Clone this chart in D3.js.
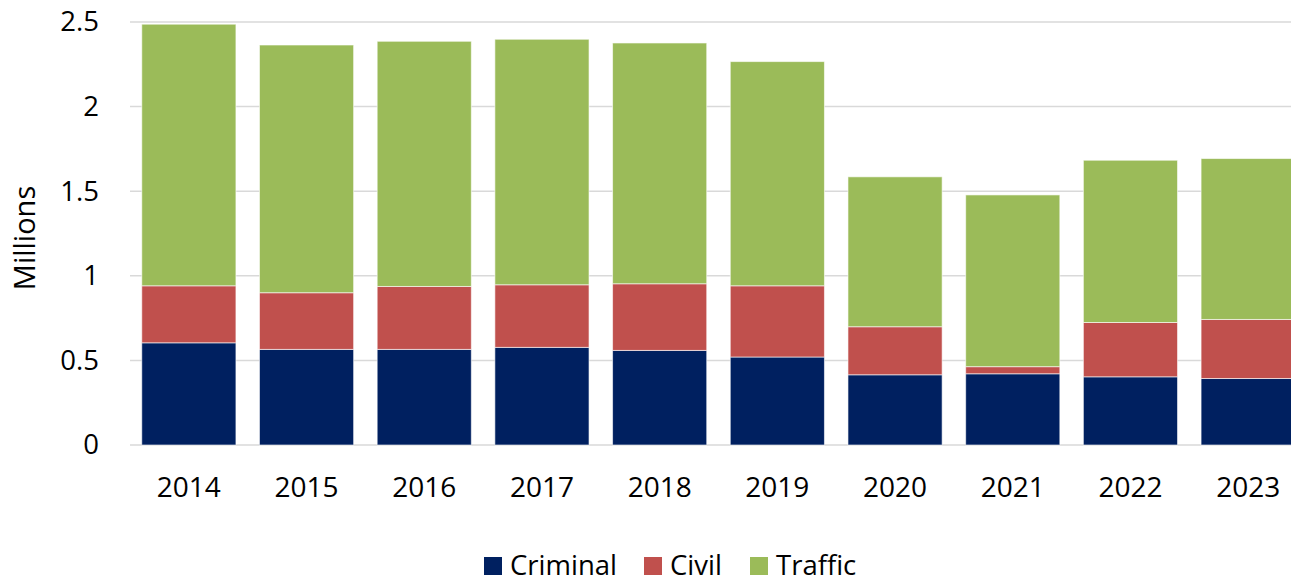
<!DOCTYPE html>
<html>
<head>
<meta charset="utf-8">
<script src="https://cdn.jsdelivr.net/npm/d3@7"></script>
<style>
  body { margin: 0; background: #fff; }
  svg { display: block; font-family: "Open Sans", "Noto Sans", sans-serif; }
</style>
</head>
<body>
<div id="chart"></div>
<script>
// DATA (millions)
const years = ["2014", "2015", "2016", "2017", "2018", "2019", "2020", "2021", "2022", "2023"];
const criminal = [0.604, 0.565, 0.565, 0.577, 0.559, 0.520, 0.415, 0.421, 0.403, 0.393];
const civil = [0.337, 0.335, 0.372, 0.370, 0.394, 0.421, 0.284, 0.042, 0.321, 0.349];
const traffic = [1.546, 1.464, 1.449, 1.451, 1.423, 1.325, 0.886, 1.015, 0.959, 0.951];
const seriesNames = ["Criminal", "Civil", "Traffic"];
const colors = ["#002060", "#C0504D", "#9BBB59"];
const yTicks = [0, 0.5, 1, 1.5, 2, 2.5];

const width = 1291;
const height = 578;
const margin = ({ top: 22, right: -16, bottom: 133, left: 130 });

const rows = years.map((y, i) => ({ year: y, Criminal: criminal[i], Civil: civil[i], Traffic: traffic[i] }));
const stacked = d3.stack().keys(seriesNames)(rows);

const x = d3.scaleBand()
    .domain(years)
    .range([margin.left, width - margin.right])
    .paddingInner(0.2)
    .paddingOuter(0.1);

const y = d3.scaleLinear()
    .domain([0, 2.5])
    .range([height - margin.bottom, margin.top]);

const svg = d3.select("#chart")
    .append("svg")
    .attr("width", width)
    .attr("height", height);

// gridlines
svg.append("g")
    .selectAll("line")
    .data(yTicks)
    .join("line")
    .attr("x1", margin.left)
    .attr("x2", width - margin.right)
    .attr("y1", d => y(d))
    .attr("y2", d => y(d))
    .attr("stroke", "#d9d9d9")
    .attr("stroke-width", 1.5);

// y axis labels
svg.append("g")
    .call(d3.axisLeft(y).tickValues(yTicks).tickSize(0).tickPadding(0).tickFormat(d3.format("")))
    .attr("transform", `translate(99,0)`)
    .call(g => g.select(".domain").remove())
    .call(g => g.selectAll("text")
        .attr("font-family", "'Open Sans', sans-serif")
        .attr("font-size", 27.5)
        .attr("fill", "#000"));

svg.append("text")
    .attr("transform", "translate(35,238) rotate(-90)")
    .attr("text-anchor", "middle")
    .attr("font-size", 29)
    .attr("fill", "#000")
    .text("Millions");

// bars
svg.append("g")
    .selectAll("g")
    .data(stacked)
    .join("g")
    .attr("fill", (d, i) => colors[i])
    .selectAll("rect")
    .data(d => d)
    .join("rect")
    .attr("x", d => x(d.data.year))
    .attr("width", x.bandwidth())
    .attr("y", d => y(d[1]))
    .attr("height", d => y(d[0]) - y(d[1]))
    .attr("stroke", "rgba(255,255,255,0.6)")
    .attr("stroke-width", 1);

// x axis labels
svg.append("g")
    .attr("transform", `translate(0,${height - margin.bottom})`)
    .call(d3.axisBottom(x).tickSize(0).tickPadding(0))
    .call(g => g.select(".domain").remove())
    .call(g => g.selectAll("text")
        .attr("dy", null)
        .attr("y", 52)
        .attr("font-family", "'Open Sans', sans-serif")
        .attr("font-size", 28)
        .attr("fill", "#000"));

// legend
const legendX = [484, 644, 750];
const legend = svg.append("g")
    .selectAll("g")
    .data(seriesNames)
    .join("g")
    .attr("transform", (d, i) => `translate(${legendX[i]},557)`);
legend.append("rect")
    .attr("width", 18)
    .attr("height", 18)
    .attr("fill", (d, i) => colors[i]);
legend.append("text")
    .attr("x", 26)
    .attr("y", 18)
    .attr("font-size", 27.5)
    .attr("fill", "#000")
    .text(d => d);
</script>
</body>
</html>
